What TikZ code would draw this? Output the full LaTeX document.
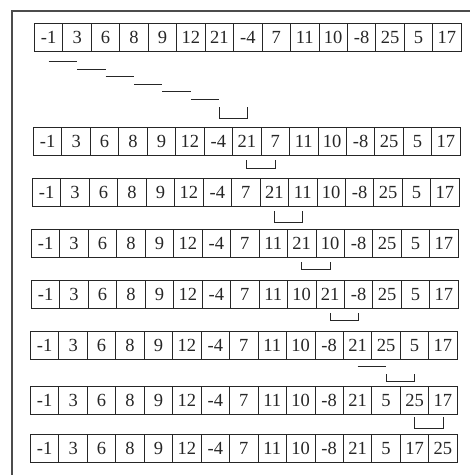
\documentclass[tikz,border=0pt]{standalone}
\usepackage{fontspec}
\setmainfont{Liberation Serif}
\begin{document}
\begin{tikzpicture}[x=1pt,y=-1pt,
  cell/.style={draw=black!85,line width=0.9pt,minimum width=28.45pt,minimum height=27.5pt,inner sep=0pt,anchor=north west,font=\fontsize{18.5}{18.5}\selectfont,text=black!85},
  link/.style={draw=black!85,line width=0.9pt},
  frame/.style={draw=black!70,line width=1.6pt}]
\useasboundingbox (0,0) rectangle (470,475);
\fill[white] (0,0) rectangle (470,475);
\coordinate (ftl) at (12,11);
\coordinate (ftr) at (470,11);
\coordinate (fbl) at (12,475);
\draw[frame] (fbl) -- (ftl) -- (ftr);
\foreach \r/\top/\left/\vals in {
 1/23/34/{-1,3,6,8,9,12,21,-4,7,11,10,-8,25,5,17},
 2/127/33/{-1,3,6,8,9,12,-4,21,7,11,10,-8,25,5,17},
 3/178/32/{-1,3,6,8,9,12,-4,7,21,11,10,-8,25,5,17},
 4/229/31/{-1,3,6,8,9,12,-4,7,11,21,10,-8,25,5,17},
 5/280/31/{-1,3,6,8,9,12,-4,7,11,10,21,-8,25,5,17},
 6/331/30/{-1,3,6,8,9,12,-4,7,11,10,-8,21,25,5,17},
 7/386/30/{-1,3,6,8,9,12,-4,7,11,10,-8,21,5,25,17},
 8/434/30/{-1,3,6,8,9,12,-4,7,11,10,-8,21,5,17,25}}{
  \foreach \v [count=\j from 0] in \vals {
    \node[cell] (r\r c\j) at (\left+\j*28.45,\top) {\v};
  }
}
% comparisons row 1
\foreach \a/\b/\y in {0/1/61,1/2/69,2/3/76,3/4/84,4/5/91,5/6/99}{
  \draw[link] (r1c\a.center |- 0,\y) -- (r1c\b.center |- 0,\y);
}
% swap brackets
\foreach \r/\a/\b/\ya/\yb in {1/6/7/107/118,2/7/8/160/168,3/8/9/211/222,4/9/10/262/269,5/10/11/313/320,6/12/13/374/381,7/13/14/417/428}{
  \draw[link] (r\r c\a.center |- 0,\ya) -- (r\r c\a.center |- 0,\yb) -- (r\r c\b.center |- 0,\yb) -- (r\r c\b.center |- 0,\ya);
}
\draw[link] (r6c11.center |- 0,366) -- (r6c12.center |- 0,366);
\end{tikzpicture}
\end{document}
